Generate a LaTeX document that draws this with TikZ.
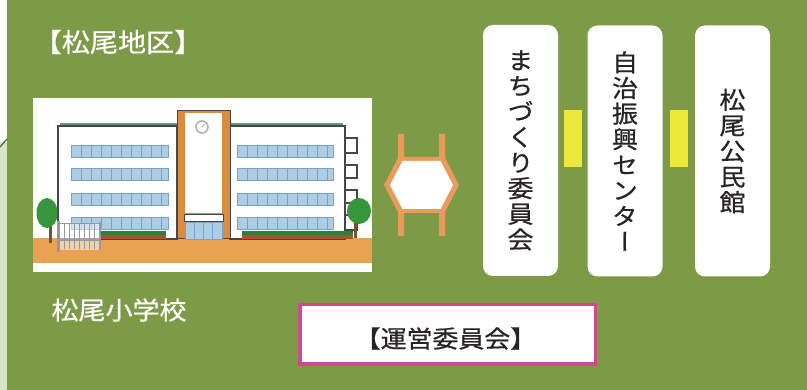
\documentclass[tikz,border=0pt]{standalone}
\usepackage{fontspec}
\usetikzlibrary{calc}
\newfontfamily\jpfont[FakeStretch=1.08,FakeBold=0.6]{Noto Sans CJK JP}
\newfontfamily\jpvfont[FakeStretch=1.08,FakeBold=0.6,RawFeature=+vert]{Noto Sans CJK JP}

\definecolor{field}{RGB}{125,155,71}
\definecolor{pale}{RGB}{214,228,200}
\definecolor{edgeline}{RGB}{60,110,45}
\definecolor{arrowor}{RGB}{232,155,90}
\definecolor{barye}{RGB}{236,232,60}
\definecolor{framepink}{RGB}{205,75,140}
\definecolor{ink}{RGB}{40,36,36}
\definecolor{ground}{RGB}{234,162,82}
\definecolor{toweror}{RGB}{218,140,62}
\definecolor{wall}{RGB}{70,70,80}
\definecolor{glass}{RGB}{172,205,228}
\definecolor{glassline}{RGB}{120,160,200}
\definecolor{roof}{RGB}{100,150,125}
\definecolor{leaf}{RGB}{55,150,60}
\definecolor{hedge}{RGB}{50,125,60}
\definecolor{soil}{RGB}{165,85,45}
\definecolor{trunk}{RGB}{120,80,50}
\definecolor{fence}{RGB}{150,150,165}

\tikzset{
  vbox/.style={fill=white, rounded corners=10pt, minimum width=75pt,
    minimum height=251pt, inner sep=0pt, text=ink, align=center,
    font=\jpvfont\fontsize{24}{25.6}\selectfont},
  yellowbar/.style={fill=barye, minimum width=18pt, minimum height=57pt, inner sep=0pt},
  labeltext/.style={text=white, inner sep=0pt},
  council/.style={draw=framepink, line width=3.5pt, fill=white,
    minimum width=295.5pt, minimum height=59.5pt, inner sep=0pt},
  counciltext/.style={text=ink, inner sep=0pt, font=\jpfont\fontsize{24}{28}\selectfont},
  wingwall/.style={fill=white, draw=wall, line width=1.1pt},
  pane/.style={fill=glass, draw=glassline, line width=0.6pt},
  paneline/.style={glassline, line width=0.5pt},
}

\begin{document}
\begin{tikzpicture}[x=1pt,y=-1pt]
% page and green field
\useasboundingbox (0,0) rectangle (807,390);
\fill[field] (0,0) rectangle (807,390);
\fill[white] (0,0) rectangle (7,142);
\fill[pale] (0,142) rectangle (7,390);
\draw[edgeline, line width=1.2pt] (0,147) .. controls (3,143) .. (7,139);

% district heading
\node[labeltext, font=\jpfont\fontsize{26}{30}\selectfont] (district) at (118,42) {【松尾地区】};

% ---- school illustration ----
\fill[white] (33,98) rectangle (372,272);
\fill[ground] (33,238) rectangle (372,263);

% wings
\fill[roof] (60,123) rectangle (177,129);
\fill[roof] (230,123) rectangle (343,129);
\draw[wingwall] (58,126) rectangle (177,239);
\draw[wingwall] (230,126) rectangle (345,239);
% balconies on the right wing
\foreach \t/\b in {138/153,165/178,190/203,215/230}
  \draw[wall, line width=1.1pt] (345,\t) -- (357,\t) -- (357,\b) -- (345,\b);
% window bands
\foreach \y in {145,168,193,217} {
  \draw[pane] (71,\y) rectangle (168,\y+12.5);
  \draw[pane] (237,\y) rectangle (333,\y+12.5);
  \foreach \x in {81,91,...,161} \draw[paneline] (\x,\y) -- (\x,\y+12.5);
  \foreach \x in {247,257,...,327} \draw[paneline] (\x,\y) -- (\x,\y+12.5);
}
% central tower with clock
\fill[toweror] (177,111) rectangle (230,239);
\draw[wall, line width=1pt] (177,111) rectangle (230,239);
\fill[white] (185,113) rectangle (222,213);
\draw[gray!60, line width=1.6pt, fill=white] (202,127) circle (6);
\draw[gray!60, line width=1pt] (202,127) -- (205,124);
\draw[wall, line width=0.8pt, fill=white] (184,214) rectangle (223,221);
\draw[pane] (185,222) rectangle (222,239);
\foreach \x in {194,203,212} \draw[paneline] (\x,222) -- (\x,239);

% hedges
\fill[hedge] (100,231) rectangle (166,235);
\fill[soil] (100,235) rectangle (166,239);
\fill[hedge] (242,231) rectangle (353,235);
\fill[soil] (242,235) rectangle (353,239);

% trees
\fill[trunk] (48.5,222) rectangle (51.5,243);
\fill[leaf] (47,213) ellipse [x radius=10.5, y radius=15];
\fill[trunk] (354,220) rectangle (357,238);
\fill[leaf] (359,211) ellipse [x radius=12, y radius=13];

% gate
\fill[white, opacity=0.5] (58,223) rectangle (100,250);
\draw[fence, line width=0.8pt] (58,223) -- (100,223);
\draw[fence, line width=0.8pt] (58,240) -- (100,240);
\foreach \x in {64,69,...,94} \draw[fence, line width=0.5pt] (\x,223) -- (\x,249);
\draw[fence, line width=3pt] (58,221) -- (58,252);
\draw[fence, line width=2.5pt] (100,222) -- (100,250);

\node[labeltext, font=\jpfont\fontsize{25}{30}\selectfont] (school) at (119,310) {松尾小学校};

% ---- two-way arrow between school and committees ----
\fill[arrowor] (384,185) -- (398,158) -- (398,134) -- (404,134) -- (404,157)
  -- (439,157) -- (439,134) -- (445,134) -- (445,158) -- (459,185)
  -- (445,212) -- (445,236) -- (439,236) -- (439,213) -- (404,213)
  -- (404,236) -- (398,236) -- (398,212) -- cycle;
\fill[white] (390,185) -- (402.5,161) -- (440.5,161) -- (453,185)
  -- (440.5,209) -- (402.5,209) -- cycle;

% ---- three organisations ----
\node[vbox] (machi)  at (520.5,150.5) {ま\\ち\\づ\\く\\り\\委\\員\\会};
\node[vbox] (center) at (625,151)   {自\\治\\振\\興\\セ\\ン\\タ\\ー};
\node[vbox] (hall)   at (732.5,151) {松\\尾\\公\\民\\館};

\node[yellowbar] (link1) at ($(machi.east)!0.5!(center.west)+(0,-12)$) {};
\node[yellowbar] (link2) at ($(center.east)!0.5!(hall.west)+(0,-12)$) {};

% ---- steering committee ----
\node[council] (steering) at (447.5,334.5) {};
\node[counciltext] (steeringname) at ($(steering.center)+(-2,4)$) {【運営委員会】};
\end{tikzpicture}
\end{document}
